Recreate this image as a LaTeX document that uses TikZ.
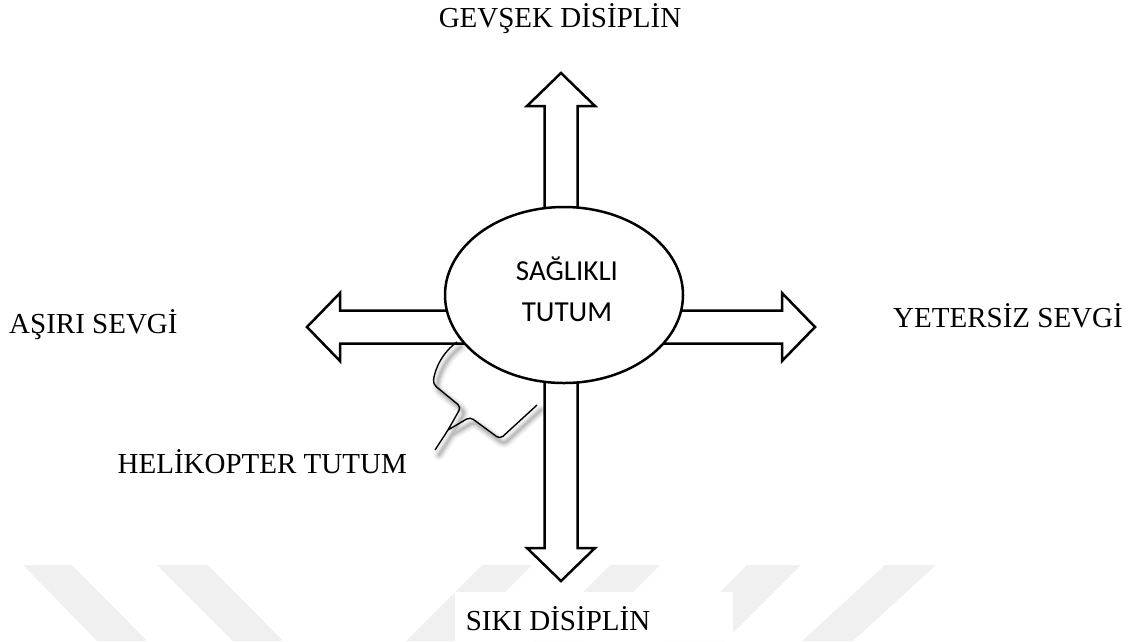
\documentclass[tikz,border=0pt]{standalone}
\usepackage{fontspec}
\setmainfont{Liberation Serif}
\newfontfamily\calibrifont{Carlito}
\usetikzlibrary{shapes.geometric}

\tikzset{
  etiket/.style={font=\fontsize{29}{35}\selectfont, inner sep=0pt},
  blokok/.style={draw=black, fill=white, line width=2.5pt, line join=miter},
  filigran/.style={fill=black!6},
}

\begin{document}
\begin{tikzpicture}[x=1pt,y=-1pt]
 \useasboundingbox (0,0) rectangle (1132,641);

 %% watermark stripes
 \fill[filigran] (23,565) -- (72,565) -- (147,641) -- (97,641) -- cycle;
 \fill[filigran] (157,565) -- (208,565) -- (283,641) -- (233,641) -- cycle;
 \fill[filigran] (482,565) -- (532,565) -- (456,641) -- (406,641) -- cycle;
 \fill[filigran] (610,565) -- (660,565) -- (584,641) -- (534,641) -- cycle;
 \fill[filigran] (747,565) -- (801,565) -- (725,641) -- (671,641) -- cycle;
 \fill[filigran] (885,565) -- (936,565) -- (853,641) -- (802,641) -- cycle;
 \fill[white] (455,592) rectangle (733,641);

 %% block arrows
 \coordinate (merkez) at (561,327);
 \foreach \aci in {0,90,180,270}
   \draw[blokok, shift={(merkez)}, rotate=\aci]
     (0,-16.5) -- (221,-16.5) -- (221,-34) -- (254,0) -- (221,34)
     -- (221,16.5) -- (0,16.5) -- cycle;

 %% ellipse
 \node[ellipse, draw, fill=white, line width=2.5pt, inner sep=0pt,
       minimum width=238pt, minimum height=176pt] (saglikli) at (564,295) {};
 \node[etiket, font=\calibrifont\fontsize{29}{41}\selectfont, align=center]
   (saglikliyazi) at (567,289) {SAĞLIKLI\\TUTUM};

 %% callout with shadow
 \foreach \w/\o in {11/0.04,8/0.06,5/0.08,2.5/0.1}
   \draw[line width=\w pt, black, opacity=\o, line cap=round, line join=round,
         rounded corners=4pt, shift={(4,5)}]
     (457,342) .. controls (443,352) and (435,368) .. (433,384) -- (461,407)
     -- (448,430) -- (435,450) (448,430) -- (470,417) -- (500,439) -- (537,405);
 \draw[line width=1.4pt, rounded corners=4pt]
   (457,342) .. controls (443,352) and (435,368) .. (433,384) -- (461,407)
   -- (448,430) -- (435,450) (448,430) -- (470,417) -- (500,439) -- (537,405);

 %% labels
 \node[etiket, anchor=base] (gevsek) at (560,27) {GEVŞEK DİSİPLİN};
 \node[etiket, anchor=base] (siki) at (558,630) {SIKI DİSİPLİN};
 \node[etiket, anchor=base west] (asiri) at (9,333) {AŞIRI SEVGİ};
 \node[etiket, anchor=base west] (yetersiz) at (893,327) {YETERSİZ SEVGİ};
 \node[etiket, anchor=base east] (helikopter) at (407,473) {HELİKOPTER TUTUM};

\end{tikzpicture}
\end{document}
